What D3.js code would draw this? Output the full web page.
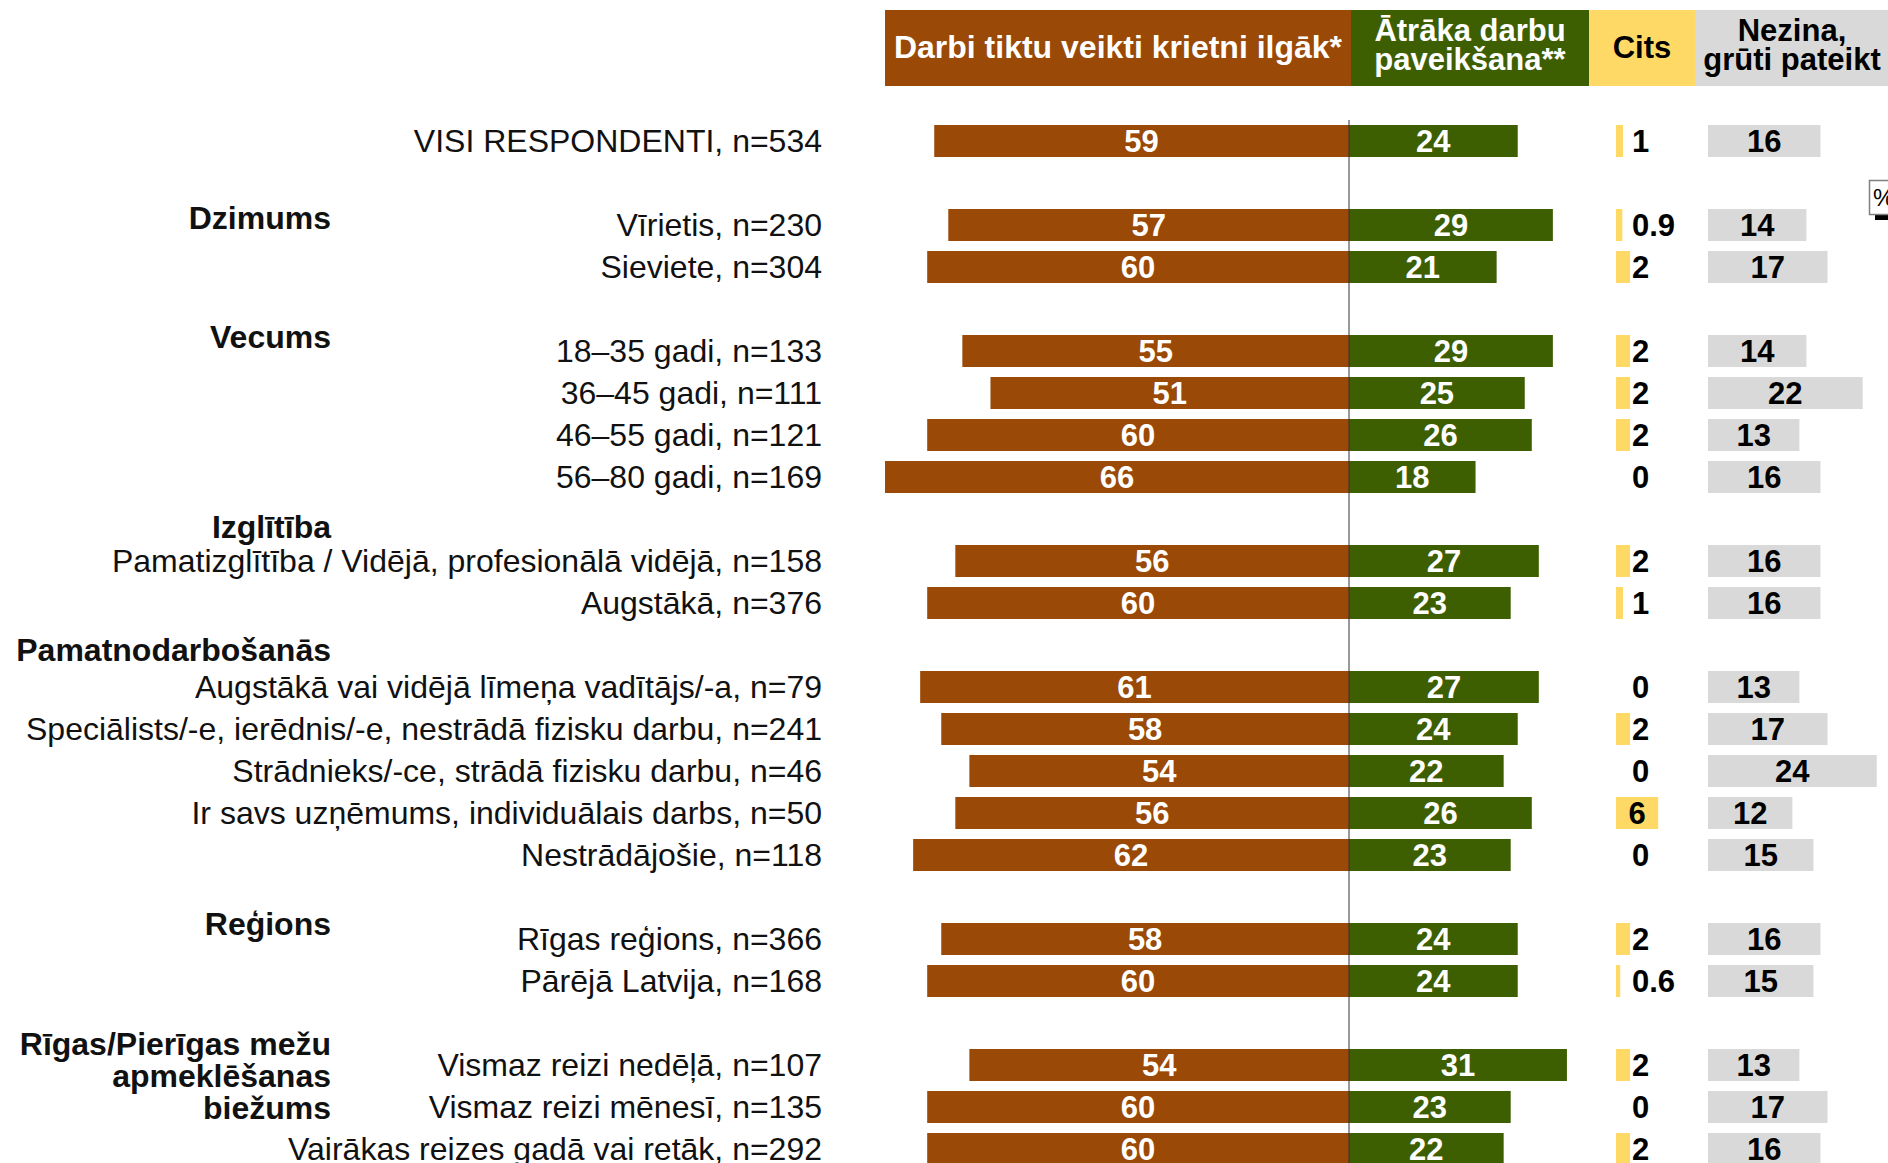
<!DOCTYPE html>
<html>
<head>
<meta charset="utf-8">
<script src="https://cdn.jsdelivr.net/npm/d3@7"></script>
<style>
  body { margin: 0; background: #fff; overflow: hidden; }
  svg { display: block; font-family: "Liberation Sans", Arial, Helvetica, sans-serif; }
</style>
</head>
<body>
<div id="chart"></div>
<script>
(function () {

// rows, top to bottom
var categories = [
  "VISI RESPONDENTI, n=534",
  "Vīrietis, n=230",
  "Sieviete, n=304",
  "18–35 gadi, n=133",
  "36–45 gadi, n=111",
  "46–55 gadi, n=121",
  "56–80 gadi, n=169",
  "Pamatizglītība / Vidējā, profesionālā vidējā, n=158",
  "Augstākā, n=376",
  "Augstākā vai vidējā līmeņa vadītājs/-a, n=79",
  "Speciālists/-e, ierēdnis/-e, nestrādā fizisku darbu, n=241",
  "Strādnieks/-ce, strādā fizisku darbu, n=46",
  "Ir savs uzņēmums, individuālais darbs, n=50",
  "Nestrādājošie, n=118",
  "Rīgas reģions, n=366",
  "Pārējā Latvija, n=168",
  "Vismaz reizi nedēļā, n=107",
  "Vismaz reizi mēnesī, n=135",
  "Vairākas reizes gadā vai retāk, n=292"
];
// group index of every row (0 = all respondents)
var rowGroup = [0, 1, 1, 2, 2, 2, 2, 3, 3, 4, 4, 4, 4, 4, 5, 5, 6, 6, 6];
var groupNames = [
  [],
  ["Dzimums"],
  ["Vecums"],
  ["Izglītība"],
  ["Pamatnodarbošanās"],
  ["Reģions"],
  ["Rīgas/Pierīgas mežu", "apmeklēšanas", "biežums"]
];

// series (%)
var longer   = [59, 57, 60, 55, 51, 60, 66, 56, 60, 61, 58, 54, 56, 62, 58, 60, 54, 60, 60];
var faster   = [24, 29, 21, 29, 25, 26, 18, 27, 23, 27, 24, 22, 26, 23, 24, 24, 31, 23, 22];
var other    = [1, 0.9, 2, 2, 2, 2, 0, 2, 1, 0, 2, 0, 6, 0, 2, 0.6, 2, 0, 2];
var dontKnow = [16, 14, 17, 14, 22, 13, 16, 16, 16, 13, 17, 24, 12, 15, 16, 15, 13, 17, 16];

var headers = [
  ["Darbi tiktu veikti krietni ilgāk*"],
  ["Ātrāka darbu", "paveikšana**"],
  ["Cits"],
  ["Nezina,", "grūti pateikt"]
];
var colors = ["#9a4906", "#3d5e01", "#ffd966", "#d9d9d9"];
var textColors = ["#fff", "#fff", "#000", "#000"];

var width = 1888, height = 1163;
var pxPerPct = 7.03;
var zeroMain = 1349, zeroOther = 1616, zeroDk = 1708;

var svg = d3.select("#chart").append("svg")
    .attr("width", width)
    .attr("height", height);

// one slot per row plus an empty slot between groups
var slots = categories.map(function(d, i) { return i + rowGroup[i]; });
var nSlots = d3.max(slots) + 1;

var y = d3.scaleBand()
    .domain(d3.range(nSlots))
    .range([120, 120 + nSlots * 42])
    .paddingInner(10 / 42)
    .paddingOuter(5 / 42);

var xLeft  = d3.scaleLinear().domain([0, 70]).range([zeroMain, zeroMain - 70 * pxPerPct]);
var xRight = d3.scaleLinear().domain([0, 40]).range([zeroMain, zeroMain + 40 * pxPerPct]);
var xOther = d3.scaleLinear().domain([0, 10]).range([zeroOther, zeroOther + 10 * pxPerPct]);
var xDk    = d3.scaleLinear().domain([0, 30]).range([zeroDk, zeroDk + 30 * pxPerPct]);

// header band
var headCols = [[885, 1351], [1351, 1589], [1589, 1695], [1695, 1900]];
var headCenters = [1118, 1470, 1642, 1792];
var head = svg.append("g").attr("class", "header");
head.selectAll("rect")
    .data(headers)
    .enter().append("rect")
    .attr("x", function(d, i) { return headCols[i][0]; })
    .attr("y", 10)
    .attr("width", function(d, i) { return headCols[i][1] - headCols[i][0]; })
    .attr("height", 76)
    .attr("fill", function(d, i) { return colors[i]; });

head.selectAll("text")
    .data(headers)
    .enter().append("text")
    .attr("x", function(d, i) { return headCenters[i]; })
    .attr("text-anchor", "middle")
    .attr("font-weight", "bold")
    .attr("font-size", function(d, i) { return i === 0 ? 32 : 31; })
    .attr("fill", function(d, i) { return textColors[i]; })
    .each(function(d, i) {
      var t = d3.select(this);
      d.forEach(function(line, j) {
        t.append("tspan")
          .attr("x", headCenters[i])
          .attr("y", d.length === 1 ? 58 : 41 + j * 29)
          .text(line);
      });
    });

// row labels
var g = svg.append("g");
g.selectAll(".cat")
    .data(categories)
    .enter().append("text")
    .attr("class", "cat")
    .attr("x", 822)
    .attr("y", function(d, i) { return y(slots[i]) + y.bandwidth() / 2 + 11; })
    .attr("text-anchor", "end")
    .attr("font-size", 32)
    .attr("fill", "#111")
    .text(function(d) { return d; });

// group labels, baseline offsets from the centre of the group's first row
var groupOffsets = [[], [4], [-3], [-23], [-26], [-4], [-10, 22, 54]];
groupNames.forEach(function(lines, k) {
  if (!lines.length) return;
  var first = rowGroup.indexOf(k);
  var cy = y(slots[first]) + y.bandwidth() / 2;
  lines.forEach(function(line, j) {
    g.append("text")
      .attr("x", 331)
      .attr("y", cy + groupOffsets[k][j])
      .attr("text-anchor", "end")
      .attr("font-weight", "bold")
      .attr("font-size", 32)
      .attr("fill", "#111")
      .text(line);
  });
});

// bars
var rows = categories.map(function(d, i) {
  return { slot: slots[i], longer: longer[i], faster: faster[i], other: other[i], dk: dontKnow[i] };
});

var bars = svg.append("g");

bars.selectAll(".longer")
    .data(rows)
    .enter().append("rect")
    .attr("class", "longer")
    .attr("x", function(d) { return xLeft(d.longer); })
    .attr("y", function(d) { return y(d.slot); })
    .attr("width", function(d) { return xLeft(0) - xLeft(d.longer); })
    .attr("height", y.bandwidth())
    .attr("fill", colors[0]);

bars.selectAll(".faster")
    .data(rows)
    .enter().append("rect")
    .attr("class", "faster")
    .attr("x", xRight(0))
    .attr("y", function(d) { return y(d.slot); })
    .attr("width", function(d) { return xRight(d.faster) - xRight(0); })
    .attr("height", y.bandwidth())
    .attr("fill", colors[1]);

bars.selectAll(".other")
    .data(rows)
    .enter().append("rect")
    .attr("class", "other")
    .attr("x", xOther(0))
    .attr("y", function(d) { return y(d.slot); })
    .attr("width", function(d) { return xOther(d.other) - xOther(0); })
    .attr("height", y.bandwidth())
    .attr("fill", colors[2]);

bars.selectAll(".dk")
    .data(rows)
    .enter().append("rect")
    .attr("class", "dk")
    .attr("x", xDk(0))
    .attr("y", function(d) { return y(d.slot); })
    .attr("width", function(d) { return xDk(d.dk) - xDk(0); })
    .attr("height", y.bandwidth())
    .attr("fill", colors[3]);

// centre line
svg.append("line")
    .attr("x1", zeroMain).attr("x2", zeroMain)
    .attr("y1", 120).attr("y2", height)
    .attr("stroke", "#333")
    .attr("stroke-width", 1);

// value labels
function labels(cls, xf, fill) {
  bars.selectAll("." + cls)
      .data(rows)
      .enter().append("text")
      .attr("class", cls)
      .attr("x", xf)
      .attr("y", function(d) { return y(d.slot) + y.bandwidth() / 2 + 11; })
      .attr("text-anchor", "middle")
      .attr("font-weight", "bold")
      .attr("font-size", 31)
      .attr("fill", fill);
}

labels("lLonger", function(d) { return (xLeft(d.longer) + xLeft(0)) / 2; }, "#fff");
bars.selectAll(".lLonger").text(function(d) { return d.longer; });

labels("lFaster", function(d) { return (xRight(d.faster) + xRight(0)) / 2; }, "#fff");
bars.selectAll(".lFaster").text(function(d) { return d.faster; });

labels("lDk", function(d) { return (xDk(d.dk) + xDk(0)) / 2; }, "#000");
bars.selectAll(".lDk").text(function(d) { return d.dk; });

// "Cits": centred in the bar when it fits, otherwise right after it
labels("lOther", function(d) {
  var w = xOther(d.other) - xOther(0);
  return w > 30 ? (xOther(d.other) + xOther(0)) / 2 : xOther(0) + 16;
}, "#000");
bars.selectAll(".lOther")
    .attr("text-anchor", function(d) { return xOther(d.other) - xOther(0) > 30 ? "middle" : "start"; })
    .text(function(d) { return d.other; });

// small % badge on the right edge
var badge = svg.append("g");
badge.append("rect")
    .attr("x", 1875).attr("y", 214).attr("width", 20).attr("height", 6)
    .attr("fill", "#000");
badge.append("rect")
    .attr("x", 1869.5).attr("y", 180.5).attr("width", 30).attr("height", 34)
    .attr("fill", "#fff").attr("stroke", "#808080").attr("stroke-width", 1.5);
badge.append("text")
    .attr("x", 1873).attr("y", 206)
    .attr("font-size", 24)
    .attr("fill", "#000")
    .text("%");

})();
</script>
</body>
</html>
